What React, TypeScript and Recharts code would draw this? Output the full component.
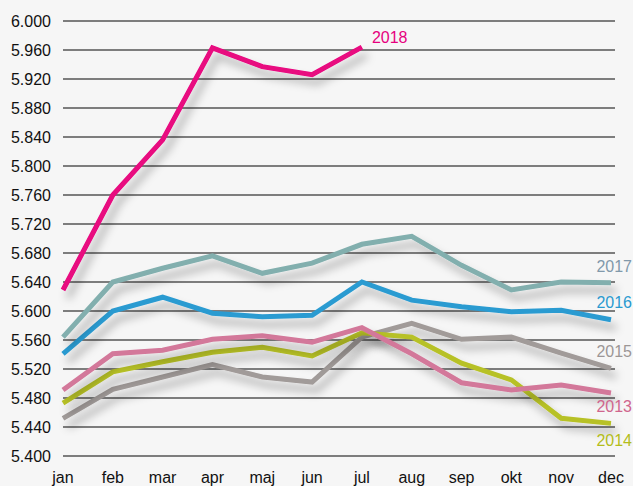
import { LineChart, Line, XAxis, YAxis, CartesianGrid, LabelList } from "recharts";

const months = ["jan", "feb", "mar", "apr", "maj", "jun", "jul", "aug", "sep", "okt", "nov", "dec"];

const y2013 = [5.491, 5.541, 5.546, 5.561, 5.566, 5.557, 5.577, 5.541, 5.501, 5.491, 5.498, 5.487];
const y2014 = [5.473, 5.516, 5.53, 5.543, 5.55, 5.538, 5.57, 5.564, 5.528, 5.505, 5.452, 5.445];
const y2015 = [5.452, 5.492, 5.509, 5.526, 5.509, 5.502, 5.564, 5.583, 5.561, 5.564, 5.542, 5.521];
const y2016 = [5.541, 5.6, 5.619, 5.597, 5.592, 5.594, 5.64, 5.615, 5.606, 5.599, 5.601, 5.588];
const y2017 = [5.564, 5.64, 5.659, 5.676, 5.652, 5.666, 5.692, 5.703, 5.663, 5.629, 5.64, 5.639];
const y2018 = [5.629, 5.76, 5.836, 5.963, 5.937, 5.926, 5.964];

const yTicks = [5.4, 5.44, 5.48, 5.52, 5.56, 5.6, 5.64, 5.68, 5.72, 5.76, 5.8, 5.84, 5.88, 5.92, 5.96, 6.0];

const data = months.map((m, i) => ({
  month: m,
  y2013: y2013[i],
  y2014: y2014[i],
  y2015: y2015[i],
  y2016: y2016[i],
  y2017: y2017[i],
  y2018: y2018[i],
}));

const series = [
  { key: "y2015", name: "2015", color: "#a19b99", label: "#9c9696", dx: 21, dy: -11, last: 11 },
  { key: "y2014", name: "2014", color: "#b7c125", label: "#b3bd1c", dx: 21, dy: 23, last: 11 },
  { key: "y2013", name: "2013", color: "#d3789a", label: "#d0668e", dx: 21, dy: 19, last: 11 },
  { key: "y2016", name: "2016", color: "#2b9bd1", label: "#2a9ad0", dx: 21, dy: -12, last: 11 },
  { key: "y2017", name: "2017", color: "#82afae", label: "#8199ab", dx: 21, dy: -11, last: 11 },
  { key: "y2018", name: "2018", color: "#e8077f", label: "#e6007e", dx: 10, dy: -4, last: 6 },
];

const font = "'Liberation Sans', Arial, sans-serif";

function EndLabel(props: any, s: (typeof series)[number]) {
  const { x, y, index } = props;
  if (index !== s.last) return null;
  const anchor = s.key === "y2018" ? "start" : "end";
  return (
    <text
      x={x + s.dx}
      y={y + s.dy}
      fill={s.label}
      fontSize={16}
      fontFamily={font}
      textAnchor={anchor}
    >
      {s.name}
    </text>
  );
}

export default function App() {
  return (
    <div style={{ position: "absolute", left: 0, top: 0, width: 633, height: 486, background: "#f6f6f6" }}>
      <LineChart width={633} height={486} data={data} margin={{ top: 21, right: 18, bottom: 0, left: 0 }}>
        <defs>
          <filter id="shadow" x="-10%" y="-20%" width="130%" height="160%">
            <feDropShadow dx="5" dy="8" stdDeviation="4" floodColor="#000" floodOpacity="0.3" />
          </filter>
        </defs>
        <CartesianGrid vertical={false} stroke="#555" strokeWidth={1.3} />
        <XAxis
          dataKey="month"
          axisLine={false}
          tickLine={false}
          tickSize={0}
          tickMargin={16}
          height={30}
          padding={{ left: 0, right: 4 }}
          tick={{ fill: "#111", fontSize: 16, fontFamily: font }}
        />
        <YAxis
          domain={[5.4, 6.0]}
          ticks={yTicks}
          axisLine={false}
          tickLine={false}
          tickSize={0}
          tickMargin={12}
          width={63}
          tickFormatter={(v: number) => v.toFixed(3)}
          tick={{ fill: "#111", fontSize: 16, fontFamily: font }}
        />
        {series.map((s) => (
          <Line
            key={s.key}
            dataKey={s.key}
            type="linear"
            stroke={s.color}
            strokeWidth={5}
            dot={false}
            activeDot={false}
            filter="url(#shadow)"
            isAnimationActive={false}
          >
            <LabelList dataKey={s.key} content={(p: any) => EndLabel(p, s)} />
          </Line>
        ))}
      </LineChart>
    </div>
  );
}
